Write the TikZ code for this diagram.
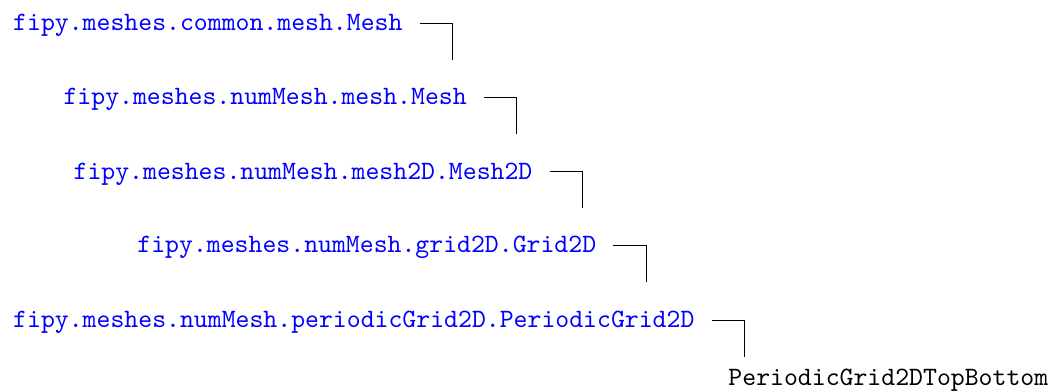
\documentclass[tikz,border=0pt]{standalone}
\usepackage{tikz}
\definecolor{ModBlue}{RGB}{0, 0, 255}

\begin{document}
\begin{tikzpicture}[x=1pt,y=1pt,
  cls/.style={font=\ttfamily,inner sep=0pt,anchor=base west}]
%\draw[help lines] (0,0) grid (397,148);
\useasboundingbox (0,0) rectangle (396.9,148);
\node[cls,ModBlue] (commonmesh) at (4.8,136.3) {fipy.meshes.common.mesh.Mesh};
\node[cls,ModBlue] (nummesh) at (23.8,108.4) {fipy.meshes.numMesh.mesh.Mesh};
\node[cls,ModBlue] (mesh2d) at (27.6,80.4) {fipy.meshes.numMesh.mesh2D.Mesh2D};
\node[cls,ModBlue] (grid2d) at (51.7,52.5) {fipy.meshes.numMesh.grid2D.Grid2D};
\node[cls,ModBlue] (periodic) at (4.8,24.2) {fipy.meshes.numMesh.periodicGrid2D.PeriodicGrid2D};
\node[cls] (topbottom) at (274.9,2.3) {PeriodicGrid2DTopBottom};
\draw ([shift={(6.3pt,2.7pt)}]commonmesh.base east) -- ++(12.4,0) -- ++(0,-13.8);
\draw ([shift={(6.3pt,2.7pt)}]nummesh.base east) -- ++(12.4,0) -- ++(0,-13.8);
\draw ([shift={(6.3pt,2.7pt)}]mesh2d.base east) -- ++(12.4,0) -- ++(0,-13.8);
\draw ([shift={(6.3pt,2.7pt)}]grid2d.base east) -- ++(12.4,0) -- ++(0,-13.8);
\draw ([shift={(6.3pt,2.7pt)}]periodic.base east) -- ++(12.4,0) -- ++(0,-13.8);
\end{tikzpicture}
\end{document}
